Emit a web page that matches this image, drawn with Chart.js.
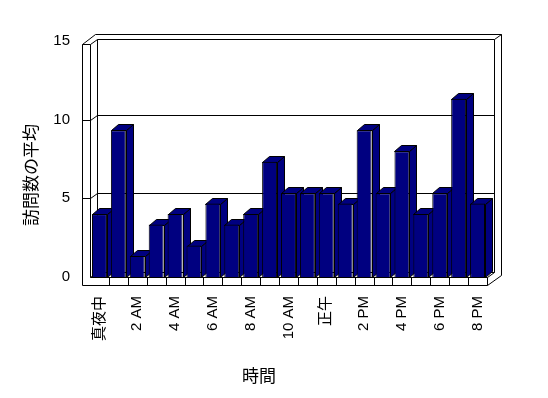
<!DOCTYPE html>
<html>
<head>
<meta charset="utf-8">
<script src="https://cdn.jsdelivr.net/npm/chart.js@4"></script>
<style>
  body { margin: 0; background: #fff; }
  #wrap { width: 548px; height: 398px; }
</style>
</head>
<body>
<div id="wrap"><canvas id="grafica" width="548" height="398"></canvas></div>
<script>
const hourLabels = ['真夜中', '1 AM', '2 AM', '3 AM', '4 AM', '5 AM', '6 AM', '7 AM', '8 AM', '9 AM', '10 AM', '11 AM',
  '正午', '1 PM', '2 PM', '3 PM', '4 PM', '5 PM', '6 PM', '7 PM', '8 PM']
const avgVisits = [4, 9.33, 1.33, 3.33, 4, 2, 4.67, 3.33, 4, 7.33, 5.33, 5.33, 5.33, 4.67, 9.33, 5.33, 8, 4, 5.33, 11.33, 4.67]
const yTicks = [0, 5, 10, 15]
const xTitle = '時間'
const yTitle = '訪問数の平均'

const fontFam = "'Liberation Sans', 'Noto Sans CJK JP', sans-serif"
const navy = '#000080'

// dibuja paredes, suelo y las caras laterales / superiores de las barras
const box3d = {
  id: 'box3d',
  beforeDatasetsDraw(chart) {
    const { ctx, chartArea: a, scales: { x, y } } = chart
    const L = a.left, R = a.right, B = a.bottom
    const top = y.getPixelForValue(yTicks[yTicks.length - 1]) + 3
    const dx = 7, dy = -5, th = 8
    const P = v => Math.round(v) + 0.5
    const poly = (pts, fill) => {
      ctx.beginPath()
      pts.forEach((p, i) => i ? ctx.lineTo(P(p[0]), P(p[1])) : ctx.moveTo(P(p[0]), P(p[1])))
      ctx.closePath()
      if (fill) { ctx.fillStyle = fill; ctx.fill() }
      ctx.stroke()
    }
    const line = (x1, y1, x2, y2) => {
      ctx.beginPath(); ctx.moveTo(P(x1), P(y1)); ctx.lineTo(P(x2), P(y2)); ctx.stroke()
    }
    ctx.save()
    ctx.lineWidth = 1
    ctx.strokeStyle = '#000'
    // silueta exterior
    poly([[L - th, B + th], [L - th, top], [L + dx - 2, top + 2 * dy], [R + 2 * dx, top + 2 * dy],
      [R + 2 * dx, B + th + 2 * dy], [R, B + th]], '#fff')
    // pared del fondo
    poly([[L + dx, top + dy], [R + dx, top + dy], [R + dx, B + dy], [L + dx, B + dy]])
    line(R + dx, top + dy, R + 2 * dx, top + 2 * dy)
    // pared izquierda
    line(L, top, L, B)
    line(L - th, top, L, top)
    line(L, top, L + dx, top + dy)
    line(L, B, L + dx, B + dy)
    // suelo
    line(L, B, R, B)
    line(R, B, R + dx, B + dy)
    line(R, B, R, B + th)
    const n = chart.data.labels.length
    const cw = (R - L) / n
    for (let k = 1; k < n; k++) line(L + k * cw, B, L + k * cw, B + th)
    // lineas de cuadricula
    yTicks.slice(1, -1).forEach(v => {
      const yp = y.getPixelForValue(v)
      line(L - th, yp, L, yp)
      line(L, yp, L + dx, yp + dy)
      line(L + dx, yp + dy, R + dx, yp + dy)
    })
    // caras 3D de las barras
    const bdx = 7, bdy = -6
    chart.getDatasetMeta(0).data.forEach(el => {
      const l = el.x - el.width / 2, r = el.x + el.width / 2
      poly([[r, el.y], [r + bdx, el.y + bdy], [r + bdx, el.base + bdy], [r, el.base]], navy)
      poly([[l, el.y], [l + bdx, el.y + bdy], [r + bdx, el.y + bdy], [r, el.y]], navy)
    })
    ctx.restore()
  },
  afterDraw(chart) {
    const { ctx } = chart
    ctx.save()
    ctx.fillStyle = '#000'
    ctx.font = '17px ' + fontFam
    ctx.textAlign = 'center'
    ctx.textBaseline = 'middle'
    ctx.fillText(xTitle, 259, 377)
    ctx.translate(32, 175)
    ctx.rotate(-Math.PI / 2)
    ctx.fillText(yTitle, 0, 0)
    ctx.restore()
  }
}

const graph = document.querySelector('#grafica')

const data = {
  labels: hourLabels,
  datasets: [{
    label: yTitle,
    data: avgVisits,
    backgroundColor: navy,
    borderColor: '#000',
    borderWidth: 1,
    categoryPercentage: 1,
    barPercentage: 0.79
  }]
}

const config = {
  type: 'bar',
  data: data,
  options: {
    responsive: false,
    animation: false,
    events: [],
    layout: { padding: { top: 41, right: 61, left: 0, bottom: 0 } },
    plugins: { legend: { display: false }, tooltip: { enabled: false } },
    scales: {
      x: {
        grid: { display: false, drawTicks: false },
        border: { display: false },
        ticks: {
          autoSkip: false,
          maxRotation: 90,
          minRotation: 90,
          padding: 19,
          color: '#000',
          font: { family: fontFam, size: 15 },
          callback: (v, i) => i % 2 === 0 ? hourLabels[i] : ''
        },
        afterFit: s => { s.height = 121 }
      },
      y: {
        min: 0,
        max: 15,
        grid: { display: false, drawTicks: false },
        border: { display: false },
        ticks: {
          stepSize: 5,
          padding: 20,
          color: '#000',
          font: { family: fontFam, size: 15 }
        },
        afterFit: s => { s.width = 90 }
      }
    }
  },
  plugins: [box3d]
}

new Chart(graph, config)
</script>
</body>
</html>
